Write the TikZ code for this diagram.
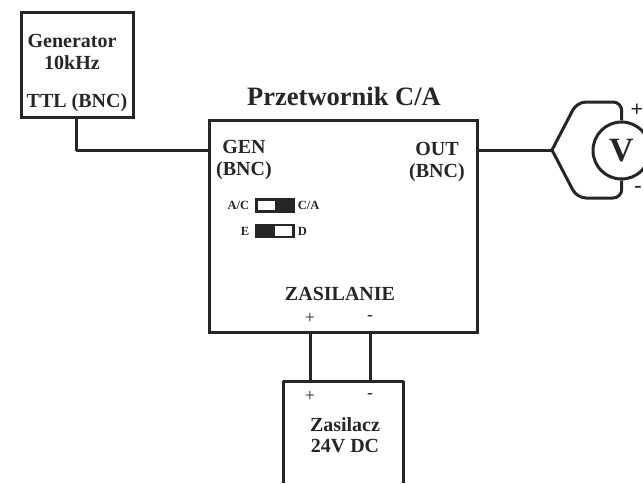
\documentclass[tikz,border=0pt]{standalone}
\usepackage{fontspec}
\setmainfont{Liberation Serif}
\usepackage{xcolor}
\usetikzlibrary{positioning,calc}
\definecolor{qink}{RGB}{38,38,38}
\tikzset{
  box/.style={draw=qink,line width=3pt,inner sep=0pt},
  wire/.style={draw=qink,line width=3pt,line join=round},
  lab/.style={font=\bfseries\fontsize{20}{21.5}\selectfont,text=qink,align=center,inner sep=0pt},
  small/.style={font=\bfseries\fontsize{12.5}{14}\selectfont,text=qink,inner sep=0pt},
  pin/.style={font=\fontsize{18}{19}\selectfont,text=qink,inner sep=0pt},
  sw/.style={draw=qink,line width=2.2pt,fill=white,minimum width=37pt,minimum height=12pt,inner sep=0pt}
}
\begin{document}
\begin{tikzpicture}[x=1pt,y=-1pt]
\useasboundingbox (0,0) rectangle (643,483);
\node[box,minimum width=112pt,minimum height=105pt] (gen) at (77,64.5) {};
\node[box,minimum width=268pt,minimum height=212pt] (dac) at (343,226) {};
\node[inner sep=0pt,minimum width=119pt,minimum height=101pt] (psu) at (343.5,432.5) {};
\draw[wire] (psu.south west) |- (psu.north east) -- (psu.south east);
\node[lab] (gentxt) at (72,52) {Generator\\10kHz};
\node[lab] (gentype) at (77,103) {TTL (BNC)};
\node[lab,font=\bfseries\fontsize{26.5}{28}\selectfont] (title) at (344,96) {Przetwornik C/A};
\node[lab] (genin) at (244,160) {GEN\\(BNC)};
\node[lab] (out) at (437,162) {OUT\\(BNC)};
\node[lab] (power) at (340,294) {ZASILANIE};
\node[lab] (psutxt) at (345,435) {Zasilacz\\24V DC};
\foreach \nam/\x/\y/\txt in {ip/310/318/+,im/370/318/-,op/310/396/+,om/370/396/-}{
  \node[pin] (\nam) at (\x,\y) {\txt};
}
% switches
\node[sw] (swa) at (275,205.5) {};
\fill[qink] (swa.north) rectangle (swa.south east);
\node[small,left=6pt of swa] (swal) {A/C};
\node[small,right=3pt of swa] (swar) {C/A};
\node[sw] (swb) at (275,231) {};
\fill[qink] (swb.north west) rectangle (swb.south);
\node[small,left=6pt of swb] (swbl) {E};
\node[small,right=3pt of swb] (swbr) {D};
% voltmeter
\node[circle,draw=qink,line width=3pt,minimum size=57pt,inner sep=0pt,
  font=\bfseries\fontsize{34}{36}\selectfont,text=qink] (volt) at (621.5,150.5) {V};
\node[pin,font=\bfseries\fontsize{22}{24}\selectfont] (vp) at (637,110) {+};
\node[pin,font=\bfseries\fontsize{22}{24}\selectfont] (vm) at (638,189) {-};
\coordinate (fork) at (552,150);
% wires
\draw[wire] (gen.south -| 76,0) |- (dac.west |- fork);
\draw[wire] (dac.east |- fork) -- (fork);
\draw[wire,rounded corners=9pt] (fork) -- (577,102) -- (622,102) -- (volt.north);
\draw[wire,rounded corners=9pt] (fork) -- (577,198) -- (622,198) -- (volt.south);
\draw[wire] (dac.south -| ip) -- (psu.north -| ip);
\draw[wire] (dac.south -| im) -- (psu.north -| im);
\end{tikzpicture}
\end{document}
